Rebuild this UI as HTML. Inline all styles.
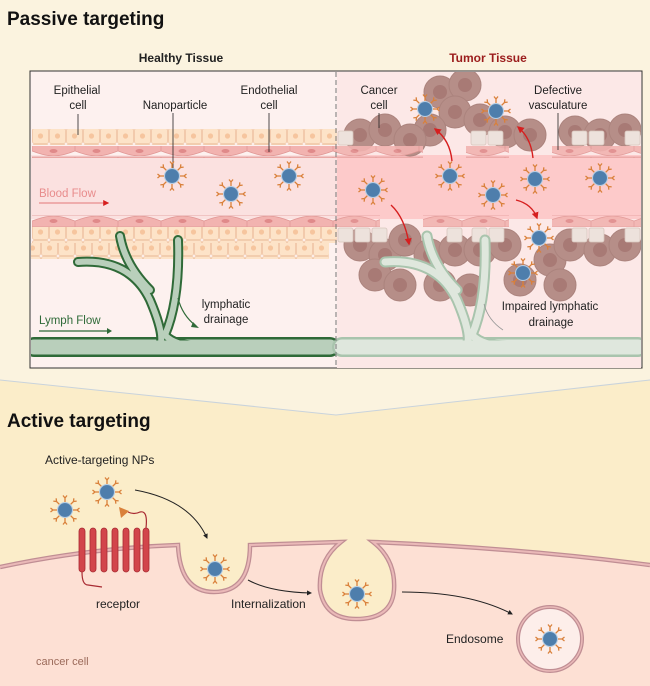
<!DOCTYPE html>
<html><head><meta charset="utf-8"><style>
html,body{margin:0;padding:0;width:650px;height:686px;overflow:hidden;background:#fbf3df}
svg{display:block}
text{font-family:"Liberation Sans",sans-serif}
</style></head><body>
<svg width="650" height="686" viewBox="0 0 650 686" xmlns="http://www.w3.org/2000/svg">
<defs>
<g id="ab"><path d="M0,-8 L0,-12 M0,-12 L-2,-14.5 M0,-12 L2,-14.5" stroke="#d9803a" stroke-width="1.3" fill="none"/></g>
<g id="np">
<use href="#ab"/><use href="#ab" transform="rotate(45)"/><use href="#ab" transform="rotate(90)"/><use href="#ab" transform="rotate(135)"/><use href="#ab" transform="rotate(180)"/><use href="#ab" transform="rotate(225)"/><use href="#ab" transform="rotate(270)"/><use href="#ab" transform="rotate(315)"/>
<circle r="7.5" fill="#5a88b5" stroke="#b7cde2" stroke-width="1"/>
<circle r="6.5" fill="#4e7eac"/>
</g>
<pattern id="epi" x="32" y="0" width="17" height="16" patternUnits="userSpaceOnUse">
<rect x="0.5" y="0.5" width="16" height="15" rx="2" fill="#fde3c8" stroke="#efc3a0" stroke-width="0.8"/>
<circle cx="8.5" cy="8" r="2.6" fill="#f6c59e"/>
</pattern>
<pattern id="endo" x="32" y="0" width="43" height="12" patternUnits="userSpaceOnUse">
<path d="M0,1 L43,1 L43,7 Q30,12 21.5,12 Q13,12 0,7Z" fill="#f2b3b0" stroke="#df9593" stroke-width="0.7"/>
<ellipse cx="21.5" cy="7" rx="4" ry="2" fill="#e08a8a"/>
</pattern>
<pattern id="endo2" x="32" y="0" width="43" height="12" patternUnits="userSpaceOnUse">
<path d="M0,11 L43,11 L43,5 Q30,0 21.5,0 Q13,0 0,5Z" fill="#f2b3b0" stroke="#df9593" stroke-width="0.7"/>
<ellipse cx="21.5" cy="5" rx="4" ry="2" fill="#e08a8a"/>
</pattern>
<g id="cc"><circle r="16" fill="#b68e88" stroke="#ab837d" stroke-width="1"/><circle r="7" fill="#a87a75"/></g>
<marker id="ar" viewBox="0 0 10 10" refX="8" refY="5" markerWidth="5" markerHeight="5" orient="auto"><path d="M0,0 L10,5 L0,10Z" fill="#222"/></marker>
<marker id="arr" viewBox="0 0 10 10" refX="8" refY="5" markerWidth="5" markerHeight="5" orient="auto"><path d="M0,0 L10,5 L0,10Z" fill="#d61f1f"/></marker>
<clipPath id="box"><rect x="31" y="72" width="610" height="296"/></clipPath>
</defs>

<rect width="650" height="686" fill="#fbf3df"/>
<text x="7" y="25" font-size="19" font-weight="bold" fill="#111">Passive targeting</text>
<text x="181" y="62" font-size="12" font-weight="bold" fill="#222" text-anchor="middle">Healthy Tissue</text>
<text x="488" y="62" font-size="12" font-weight="bold" fill="#9b1c1c" text-anchor="middle">Tumor Tissue</text>

<rect x="30" y="71" width="612" height="297" fill="#fdf1ef" stroke="#333" stroke-width="1"/>
<rect x="337" y="72" width="304" height="296" fill="#fce8e7"/>
<g clip-path="url(#box)">
<rect x="31" y="155" width="306" height="64" fill="#fbe1e0"/>
<rect x="337" y="155" width="304" height="64" fill="#fdcaca"/>
<g>
<use href="#cc" x="440" y="92"/><use href="#cc" x="465" y="85"/><use href="#cc" x="455" y="112"/><use href="#cc" x="430" y="130"/><use href="#cc" x="480" y="120"/>
<use href="#cc" x="360" y="135"/><use href="#cc" x="385" y="130"/><use href="#cc" x="410" y="140"/><use href="#cc" x="505" y="132"/><use href="#cc" x="530" y="135"/>
<use href="#cc" x="575" y="132"/><use href="#cc" x="600" y="135"/><use href="#cc" x="625" y="130"/>
<use href="#cc" x="360" y="245"/><use href="#cc" x="385" y="255"/><use href="#cc" x="405" y="240"/><use href="#cc" x="375" y="275"/><use href="#cc" x="400" y="285"/><use href="#cc" x="430" y="255"/><use href="#cc" x="455" y="250"/><use href="#cc" x="480" y="250"/><use href="#cc" x="505" y="245"/><use href="#cc" x="520" y="280"/><use href="#cc" x="550" y="260"/><use href="#cc" x="570" y="245"/><use href="#cc" x="600" y="250"/><use href="#cc" x="625" y="245"/><use href="#cc" x="560" y="285"/><use href="#cc" x="440" y="285"/><use href="#cc" x="470" y="290"/>
</g>
<rect x="32" y="129" width="305" height="16" fill="url(#epi)"/>
<rect x="32" y="227" width="305" height="16" fill="url(#epi)"/>
<rect x="24" y="243" width="313" height="16" fill="url(#epi)" transform="translate(-8,0)"/>
<g fill="#ede2dc" stroke="#d8c6bd" stroke-width="0.8">
<rect x="338" y="131" width="15" height="14" rx="2"/><rect x="471" y="131" width="15" height="14" rx="2"/><rect x="488" y="131" width="15" height="14" rx="2"/><rect x="572" y="131" width="15" height="14" rx="2"/><rect x="589" y="131" width="15" height="14" rx="2"/><rect x="625" y="131" width="15" height="14" rx="2"/>
<rect x="338" y="228" width="15" height="14" rx="2"/><rect x="355" y="228" width="15" height="14" rx="2"/><rect x="372" y="228" width="15" height="14" rx="2"/><rect x="447" y="228" width="15" height="14" rx="2"/><rect x="472" y="228" width="15" height="14" rx="2"/><rect x="489" y="228" width="15" height="14" rx="2"/><rect x="572" y="228" width="15" height="14" rx="2"/><rect x="589" y="228" width="15" height="14" rx="2"/><rect x="625" y="228" width="15" height="14" rx="2"/>
</g>
<rect x="32" y="146" width="305" height="12" fill="url(#endo)"/>
<rect x="32" y="215" width="305" height="12" fill="url(#endo2)"/>
<g opacity="0.9">
<rect x="337" y="146" width="86" height="12" fill="url(#endo)"/>
<rect x="466" y="146" width="43" height="12" fill="url(#endo)"/>
<rect x="552" y="146" width="90" height="12" fill="url(#endo)"/>
<rect x="337" y="215" width="43" height="12" fill="url(#endo2)"/>
<rect x="423" y="215" width="86" height="12" fill="url(#endo2)"/>
<rect x="552" y="215" width="90" height="12" fill="url(#endo2)"/>
</g>
<g fill="none" stroke-linecap="round">
<path d="M34,347 L330,347" stroke="#2f6a38" stroke-width="20"/>
<path d="M34,347 L330,347" stroke="#b9cfbb" stroke-width="15"/>
<path d="M78,262 Q130,258 150,300 Q165,335 160,346 M120,236 Q125,265 150,290 M178,240 Q180,300 165,335 Q175,346 200,346" stroke="#2f6a38" stroke-width="10"/>
<path d="M78,262 Q130,258 150,300 Q165,335 160,346 M120,236 Q125,265 150,290 M178,240 Q180,300 165,335 Q175,346 200,346" stroke="#b9cfbb" stroke-width="6"/>
<path d="M34,347 L330,347" stroke="#b9cfbb" stroke-width="13"/>
</g>
<g fill="none" stroke-linecap="round">
<path d="M342,347 L638,347" stroke="#a9c4ad" stroke-width="20"/>
<path d="M342,347 L638,347" stroke="#dfe7dd" stroke-width="15"/>
<path d="M385,262 Q437,258 457,300 Q472,335 467,346 M427,236 Q432,265 457,290 M485,240 Q487,300 472,335 Q482,346 507,346" stroke="#a9c4ad" stroke-width="11"/>
<path d="M385,262 Q437,258 457,300 Q472,335 467,346 M427,236 Q432,265 457,290 M485,240 Q487,300 472,335 Q482,346 507,346" stroke="#dfe7dd" stroke-width="7"/>
<path d="M342,347 L638,347" stroke="#dfe7dd" stroke-width="13"/>
</g>
</g>
<line x1="336" y1="72" x2="336" y2="368" stroke="#777" stroke-width="1" stroke-dasharray="5,3"/>

<g font-size="11.5" fill="#222" text-anchor="middle">
<text x="77" y="94">Epithelial</text><text x="78" y="109">cell</text>
<text x="175" y="109">Nanoparticle</text>
<text x="269" y="94">Endothelial</text><text x="269" y="109">cell</text>
<text x="379" y="94">Cancer</text><text x="379" y="109">cell</text>
<text x="558" y="94">Defective</text><text x="558" y="109">vasculature</text>
<text x="226" y="308" text-anchor="middle">lymphatic</text><text x="226" y="323">drainage</text>
<text x="550" y="310">Impaired lymphatic</text><text x="551" y="326">drainage</text>
</g>
<g stroke="#222" stroke-width="0.8">
<line x1="78" y1="114" x2="78" y2="135"/><line x1="173" y1="113" x2="173" y2="172"/><line x1="269" y1="113" x2="269" y2="152"/><line x1="379" y1="113" x2="379" y2="128"/><line x1="558" y1="113" x2="558" y2="150"/>
</g>
<text x="39" y="197" font-size="11.5" fill="#e88c8c">Blood Flow</text>
<line x1="39" y1="203" x2="108" y2="203" stroke="#e88c8c" stroke-width="1.2" marker-end="url(#arr)"/>
<text x="39" y="324" font-size="11.5" fill="#2f6a38">Lymph Flow</text>
<path d="M39,331 L107,331" stroke="#2f6a38" stroke-width="1.2"/><path d="M107,328 L112,331 L107,334Z" fill="#2f6a38"/>
<path d="M178,298 Q182,315 196,326" fill="none" stroke="#2f6a38" stroke-width="1.2"/><path d="M193,322 L199,328 L191,327Z" fill="#2f6a38"/>
<path d="M484,304 Q488,320 503,330" fill="none" stroke="#999" stroke-width="0.8"/>

<g fill="none" stroke="#d61f1f" stroke-width="1.4" marker-end="url(#arr)">
<path d="M452,161 Q450,140 435,129"/><path d="M533,158 Q531,138 518,127"/>
<path d="M391,205 Q405,218 409,244"/><path d="M516,200 Q532,204 537,218"/>
</g>
<use href="#np" x="172" y="176"/><use href="#np" x="231" y="194"/><use href="#np" x="289" y="176"/>
<use href="#np" x="425" y="109"/><use href="#np" x="496" y="111"/><use href="#np" x="373" y="190"/><use href="#np" x="450" y="176"/><use href="#np" x="493" y="195"/><use href="#np" x="535" y="179"/><use href="#np" x="600" y="178"/><use href="#np" x="539" y="238"/><use href="#np" x="523" y="273"/>

<path d="M0,380 L336,415 L650,380 L650,686 L0,686Z" fill="#fbedc9"/>
<path d="M0,380 L336,415 L650,380" fill="none" stroke="#c9d3dc" stroke-width="1"/>
<text x="7" y="427" font-size="19" font-weight="bold" fill="#111">Active targeting</text>
<text x="45" y="464" font-size="12" fill="#222">Active-targeting NPs</text>

<path d="M0,567 Q90,548 178,545 Q180,592 214,592 Q250,592 250,545 L341,542 Q318,560 320,590 Q325,619 356,619 Q392,619 394,590 Q396,560 373,542 Q520,548 650,565 L650,686 L0,686Z" fill="#fde0d4"/>
<path d="M0,567 Q90,548 178,545 Q180,592 214,592 Q250,592 250,545 L341,542 Q318,560 320,590 Q325,619 356,619 Q392,619 394,590 Q396,560 373,542 Q520,548 650,565" fill="none" stroke="#c08e94" stroke-width="4.5"/>
<path d="M0,567 Q90,548 178,545 Q180,592 214,592 Q250,592 250,545 L341,542 Q318,560 320,590 Q325,619 356,619 Q392,619 394,590 Q396,560 373,542 Q520,548 650,565" fill="none" stroke="#eab9b8" stroke-width="2"/>
<g fill="#d2454b" stroke="#a82a32" stroke-width="0.8">
<rect x="79" y="528" width="6" height="44" rx="3"/><rect x="90" y="528" width="6" height="44" rx="3"/><rect x="101" y="528" width="6" height="44" rx="3"/><rect x="112" y="528" width="6" height="44" rx="3"/><rect x="123" y="528" width="6" height="44" rx="3"/><rect x="134" y="528" width="6" height="44" rx="3"/><rect x="143" y="528" width="6" height="44" rx="3"/>
</g>
<path d="M146,528 Q148,510 140,512 Q134,515 128,512 M82,572 Q82,585 88,585 L102,587" fill="none" stroke="#a82a32" stroke-width="1.2"/>
<path d="M119,507 L129,511 L121,518Z" fill="#d9803a"/>
<text x="96" y="608" font-size="12" fill="#222">receptor</text>
<text x="231" y="608" font-size="12" fill="#222">Internalization</text>
<text x="446" y="643" font-size="12" fill="#222">Endosome</text>
<text x="36" y="665" font-size="11" fill="#9b6a5a">cancer cell</text>
<circle cx="550" cy="639" r="32" fill="#fdeeea" stroke="#c08e94" stroke-width="4"/>
<circle cx="550" cy="639" r="32" fill="none" stroke="#eab9b8" stroke-width="1.5"/>
<g fill="none" stroke="#222" stroke-width="1" marker-end="url(#ar)">
<path d="M135,490 Q190,500 207,538"/><path d="M248,580 Q270,592 311,593"/><path d="M402,592 Q470,592 512,614"/>
</g>
<use href="#np" x="65" y="510"/><use href="#np" x="107" y="492"/><use href="#np" x="215" y="569"/><use href="#np" x="357" y="594"/><use href="#np" x="550" y="639"/>
</svg>
</body></html>
